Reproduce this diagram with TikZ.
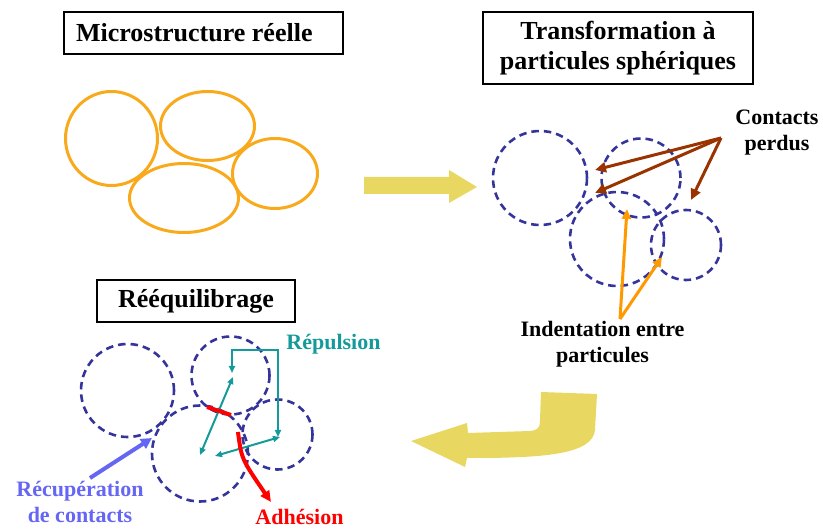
\documentclass[tikz,border=0pt]{standalone}
\usepackage{fontspec}
\setmainfont{Liberation Serif}
\usetikzlibrary{arrows.meta,shapes.geometric}
\definecolor{ocre}{HTML}{F8A91C}
\definecolor{jaune}{HTML}{E8D862}
\definecolor{marine}{HTML}{34349A}
\definecolor{brun}{HTML}{993300}
\definecolor{orangevif}{HTML}{FF9900}
\definecolor{sarcelle}{HTML}{149A9A}
\definecolor{rouge}{HTML}{FF0000}
\definecolor{lavande}{HTML}{6666F5}
\begin{document}
\begin{tikzpicture}[x=1pt,y=-1pt,
  titlebox/.style={draw, line width=1.6pt, inner sep=0pt, align=center,
    font=\fontsize{26}{30}\selectfont\bfseries},
  lbl/.style={font=\fontsize{22}{26}\selectfont\bfseries, align=center, anchor=base, inner sep=0pt},
  grain/.style={draw=ocre, line width=3pt, ellipse, inner sep=0pt},
  sphere/.style={draw=marine, line width=2.6pt, dash pattern=on 7.5pt off 5pt, circle, inner sep=0pt},
  brunarrow/.style={draw=brun, line width=3pt, -{Triangle[length=11pt,width=10pt]}},
  orarrow/.style={draw=orangevif, line width=3pt, -{Triangle[length=10pt,width=9pt]}},
  reparrow/.style={draw=sarcelle, line width=2pt, {Triangle[length=7pt,width=6pt]}-{Triangle[length=7pt,width=6pt]}},
  redline/.style={draw=rouge, line width=4pt},
  redarrow/.style={draw=rouge, line width=4pt, -{Triangle[length=11pt,width=10pt]}},
  lavarrow/.style={draw=lavande, line width=4pt, -{Triangle[length=11pt,width=11pt]}},
  bigarrow/.style={fill=jaune, draw=none}
]
\useasboundingbox (0,0) rectangle (823,529);

% ---- titles
\node[titlebox, minimum width=279pt, minimum height=42pt] (t1) at (203.5,33)
  {\makebox[255pt][l]{Microstructure réelle}};
\node[titlebox, minimum width=270pt, minimum height=72pt] (t2) at (618,48)
  {Transformation à\\particules sphériques};
\node[titlebox, minimum width=198pt, minimum height=42pt] (t3) at (196,301)
  {\raisebox{-2.5pt}{Rééquilibrage}};

% ---- real microstructure
\node[grain, minimum width=92pt, minimum height=94pt] (e1) at (111.5,138.5) {};
\node[grain, minimum width=94pt, minimum height=69pt] (e2) at (207.5,126) {};
\node[grain, minimum width=109pt, minimum height=69pt] (e3) at (184,198) {};
\node[grain, minimum width=85pt, minimum height=70pt] (e4) at (275,173.5) {};

% ---- big yellow arrows
\path[bigarrow] (364,177) -- (449,177) -- (449,170) -- (477,187) -- (449,203)
  -- (449,194) -- (364,194) -- cycle;
\path[bigarrow] (411,441) -- (467,423) -- (468,433) -- (530,431)
  .. controls (538,430) and (540,428) .. (540,420) -- (541,392) -- (597,394)
  -- (595,430) .. controls (593,455) and (540,457) .. (490,458)
  -- (467,458) -- (465,467) -- cycle;

% ---- spherical particles
\node[sphere, minimum size=94pt] (c1) at (540,178) {};
\node[sphere, minimum size=79pt] (c2) at (641,178) {};
\node[sphere, minimum size=94pt] (c3) at (617,239) {};
\node[sphere, minimum size=70pt] (c4) at (686,245) {};

\node[lbl] (lost) at (777,151) {Contacts\\perdus};
\coordinate (lostsrc) at (721,138);
\coordinate (lost1) at (595,170);
\coordinate (lost2) at (595,193);
\coordinate (lost3) at (691,200);
\draw[brunarrow] (lostsrc) -- (lost1);
\draw[brunarrow] (lostsrc) -- (lost2);
\draw[brunarrow] (lostsrc) -- (lost3);

\node[lbl] (indent) at (602.5,363) {Indentation entre\\particules};
\coordinate (indsrc) at (620,319);
\coordinate (ind1) at (627,209);
\coordinate (ind2) at (662,257);
\draw[orarrow] (indsrc) -- (ind1);
\draw[orarrow] (indsrc) -- (ind2);

% ---- rebalancing
\node[sphere, minimum size=93pt] (d1) at (127.5,390.5) {};
\node[sphere, minimum size=78pt] (d2) at (230.5,375.5) {};
\node[sphere, minimum size=70pt] (d3) at (277.5,434.5) {};
\node[sphere, minimum size=96pt] (d4) at (200,453.5) {};

\node[lbl, text=sarcelle] (rep) at (333.5,350) {Répulsion};
\coordinate (ra) at (232,373);
\coordinate (rcorner) at (278,350);
\coordinate (rb) at (278,437);
\draw[reparrow] (ra) |- (rcorner) -- (rb);
\coordinate (r1a) at (200,455);
\coordinate (r1b) at (233,377);
\draw[reparrow] (r1a) -- (r1b);
\coordinate (r2a) at (215,456);
\coordinate (r2b) at (280,437);
\draw[reparrow] (r2a) -- (r2b);

\coordinate (adh1) at (207,407);
\coordinate (adh2) at (231,415);
\draw[redline] (adh1) -- (adh2);
\coordinate (adhs) at (238,432);
\coordinate (adht) at (271,502);
\draw[redarrow] (adhs) .. controls (241.5,459) .. (adht);
\node[lbl, text=rouge] (adh) at (299.5,525) {Adhésion};

\coordinate (recs) at (90,478);
\coordinate (rect) at (152,438);
\draw[lavarrow] (recs) -- (rect);
\node[lbl, text=lavande] (rec) at (80,523) {Récupération\\de contacts};
\end{tikzpicture}
\end{document}
